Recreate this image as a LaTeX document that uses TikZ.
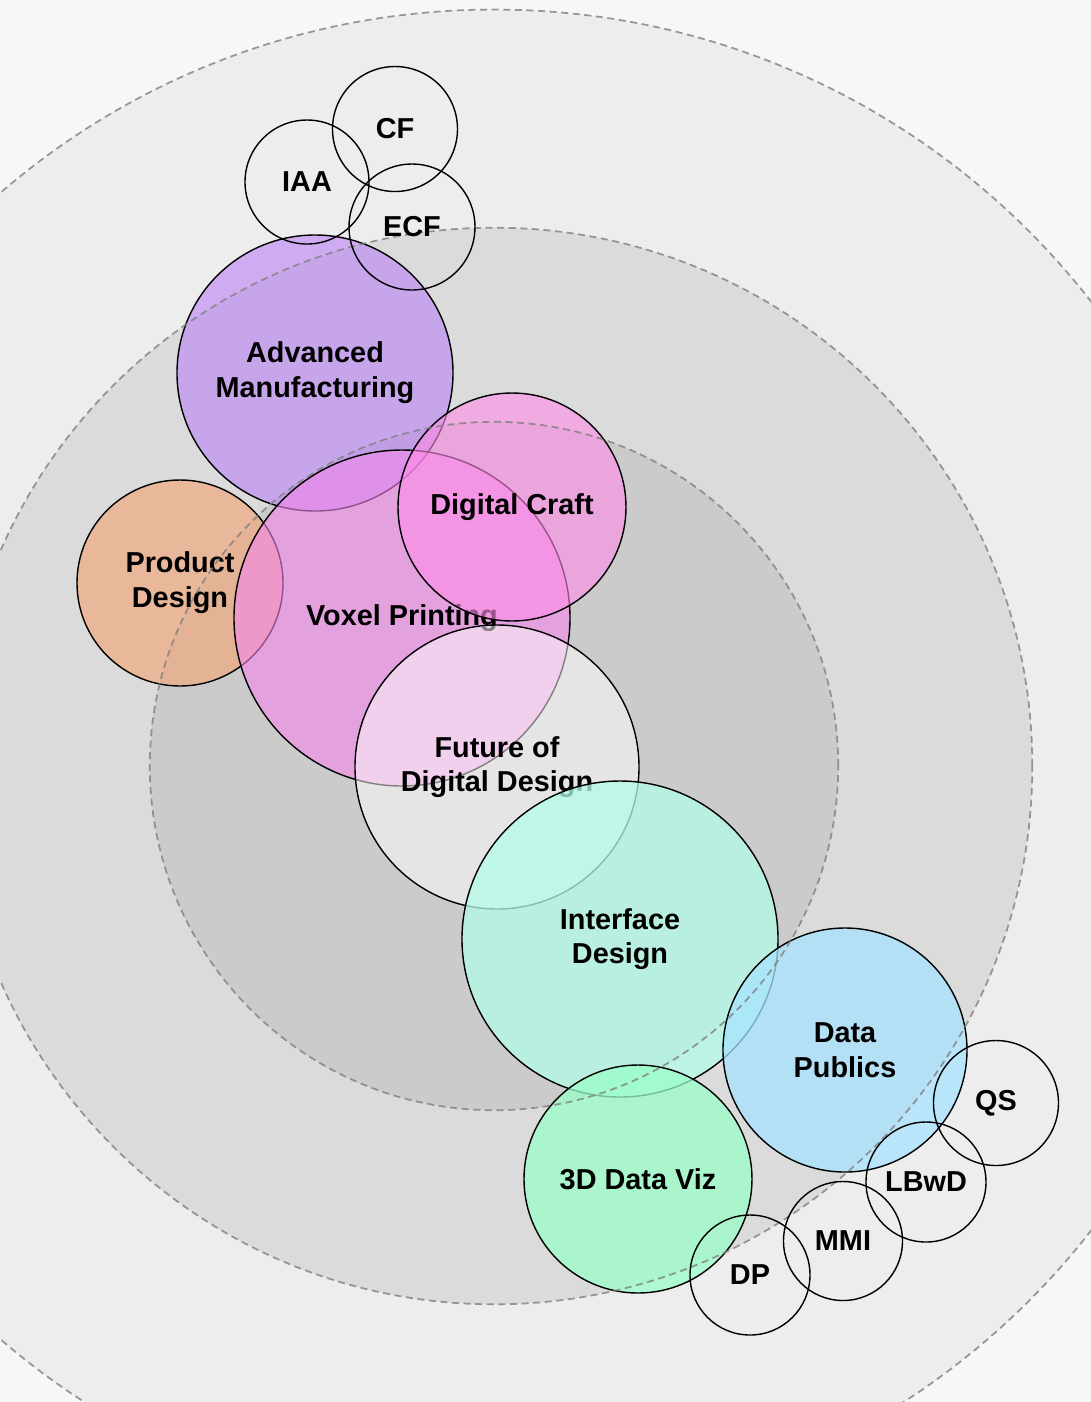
\documentclass[tikz,border=0pt]{standalone}
\usepackage{fontspec}
\setmainfont{Liberation Sans}
\usepackage[svgnames]{xcolor}
\usepackage{tikz}

\definecolor{paper}{HTML}{F7F7F7}
\definecolor{ringA}{HTML}{EDEDED}
\definecolor{ringB}{HTML}{DBDBDB}
\definecolor{ringC}{HTML}{CBCBCB}
\definecolor{mfgcol}{RGB}{187,129,246}
\definecolor{prodcol}{RGB}{239,168,125}
\definecolor{voxcol}{RGB}{243,135,235}
\definecolor{craftcol}{RGB}{255,140,232}
\definecolor{ifacecol}{RGB}{179,252,232}
\definecolor{vizcol}{RGB}{154,254,200}
\definecolor{pubcol}{RGB}{167,227,255}

\begin{document}
\begin{tikzpicture}[x=0.01cm, y=-0.01cm]
\tikzset{
  ring/.style={
    draw=Gray,
    line width=0.5pt,
    dash pattern=on 2pt off 1.3pt},
  bubble/.style={
    circle,
    draw=black,
    line width=0.4pt,
    inner sep=0pt,
    minimum size=#1*0.01cm,
    align=center,
    text opacity=1,
    font=\bfseries\fontsize{8.2}{9.9}\selectfont},
  tint/.style={
    fill=#1,
    fill opacity=0.6},
}

\useasboundingbox (0,0) rectangle (1091,1402);
\clip (0,0) rectangle (1091,1402);
\fill[paper] (0,0) rectangle (1091,1402);

\fill[ringA] (494,766) circle[radius=7.56cm];
\fill[ringB] (494,766) circle[radius=5.38cm];
\fill[ringC] (494,766) circle[radius=3.44cm];

\node[bubble=276, tint=mfgcol] (mfg) at (315,373) {Advanced\\Manufacturing};
\node[bubble=206, tint=prodcol, fill opacity=0.7] (prod) at (180,583) {Product\\Design};
\node[bubble=336, tint=voxcol] (voxel) at (402,618) {Voxel Printing};
\node[bubble=228, tint=craftcol] (craft) at (512,507) {Digital Craft};
\node[bubble=284, tint=white, fill opacity=0.5] (future) at (497,767) {Future of\\Digital Design};
\node[bubble=316, tint=ifacecol, fill opacity=0.75] (iface) at (620,939) {Interface\\Design};
\node[bubble=228, tint=vizcol, fill opacity=0.75] (viz) at (638,1179) {3D Data Viz};
\node[bubble=244, tint=pubcol, fill opacity=0.75] (publics) at (845,1050) {Data\\Publics};

\path[ring, draw opacity=0.8] (494,766) circle[radius=7.56cm];
\path[ring, draw opacity=0.8] (494,766) circle[radius=5.38cm];
\path[ring, draw opacity=0.8] (494,766) circle[radius=3.44cm];

\node[bubble=124] (iaa) at (307,182) {IAA};
\node[bubble=125] (cf) at (395,129) {CF};
\node[bubble=126] (ecf) at (412,227) {ECF};

\node[bubble=125] (qs) at (996,1103) {QS};
\node[bubble=120] (lbwd) at (926,1182) {LBwD};
\node[bubble=119] (mmi) at (843,1241) {MMI};
\node[bubble=120] (dp) at (750,1275) {DP};
\end{tikzpicture}
\end{document}
